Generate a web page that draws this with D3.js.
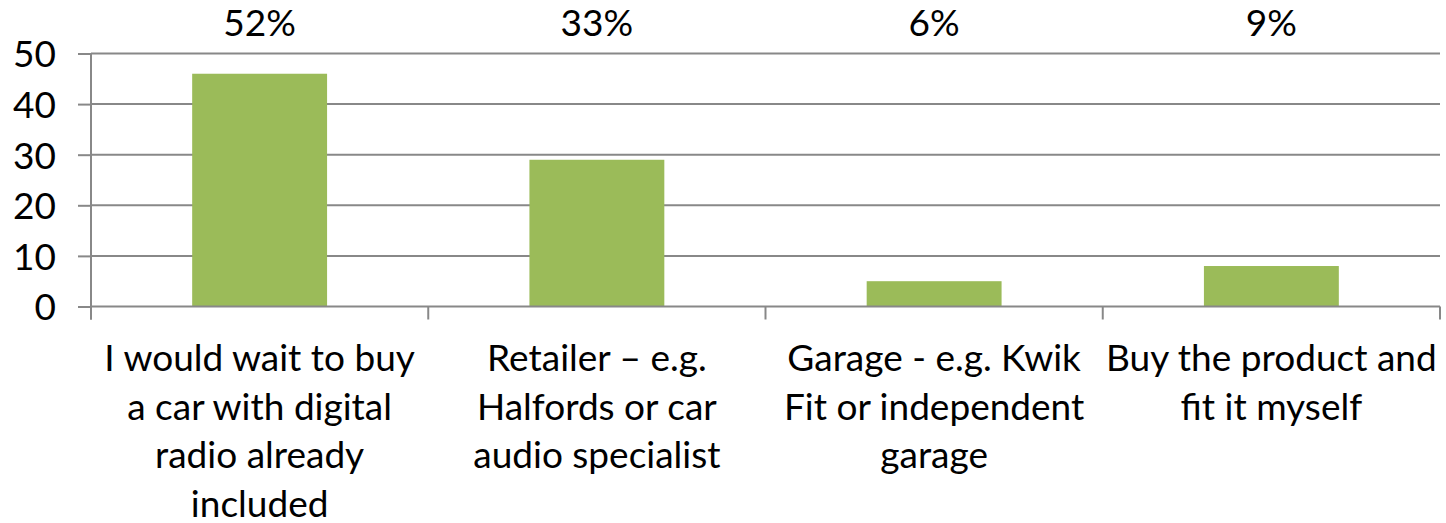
<!DOCTYPE html>
<html>
<head>
<meta charset="utf-8">
<script src="https://cdn.jsdelivr.net/npm/d3@7"></script>
<style>
  html, body { margin: 0; padding: 0; background: #fff; }
  svg { display: block; }
  text { font-family: Lato, "Open Sans", sans-serif; fill: #000; }
</style>
</head>
<body>
<svg id="chart" width="1446" height="523"></svg>
<script>
const categories = [
  ["I would wait to buy", "a car with digital", "radio already", "included"],
  ["Retailer \u2013 e.g.", "Halfords or car", "audio specialist"],
  ["Garage - e.g. Kwik", "Fit or independent", "garage"],
  ["Buy the product and", "fit it myself"]
];
const values = [46, 29, 5, 8];
const percentLabels = ["52%", "33%", "6%", "9%"];
const yTicks = [0, 10, 20, 30, 40, 50];

(function () {
const svg = d3.select("#chart");
const pLeft = 91, pRight = 1440, pTop = 53.5, pBottom = 306.5;
const fontSize = 37;
const gridColor = "#888888";

const x = d3.scaleBand().domain(d3.range(categories.length))
  .range([pLeft, pRight]).paddingInner(0.6).paddingOuter(0.3);
const y = d3.scaleLinear().domain([0, 50]).range([pBottom, pTop]);

// gridlines
svg.append("g").selectAll("line").data(yTicks.filter(d => d > 0)).join("line")
  .attr("x1", pLeft).attr("x2", pRight)
  .attr("y1", d => y(d)).attr("y2", d => y(d))
  .attr("stroke", gridColor).attr("stroke-width", 2);

// y axis
const yAxis = d3.axisLeft(y).tickValues(yTicks).tickSize(13).tickPadding(22);
const gy = svg.append("g").attr("transform", `translate(${pLeft},0)`).call(yAxis);
gy.select(".domain").remove();
gy.selectAll(".tick line").attr("stroke", gridColor).attr("stroke-width", 2);
gy.selectAll(".tick text").attr("font-size", fontSize).attr("font-family", "Lato, sans-serif")
  .attr("fill", "#000").attr("dy", "0.36em");
svg.append("line").attr("x1", pLeft).attr("x2", pLeft).attr("y1", pTop).attr("y2", pBottom + 13)
  .attr("stroke", gridColor).attr("stroke-width", 2);

// bars
svg.append("g").selectAll("rect").data(values).join("rect")
  .attr("x", (d, i) => x(i)).attr("width", x.bandwidth())
  .attr("y", d => y(d)).attr("height", d => y(0) - y(d))
  .attr("fill", "#9BBB59");

// x axis baseline
svg.append("line").attr("x1", pLeft).attr("x2", pRight).attr("y1", pBottom).attr("y2", pBottom)
  .attr("stroke", gridColor).attr("stroke-width", 2);
// category tick marks (boundaries)
const step = x.step();
const bounds = d3.range(categories.length + 1).map(i => pLeft + i * step);
svg.append("g").selectAll("line").data(bounds).join("line")
  .attr("x1", d => d).attr("x2", d => d).attr("y1", pBottom).attr("y2", pBottom + 13)
  .attr("stroke", gridColor).attr("stroke-width", 2);

// category labels
const lineH = 48.5;
const cl = svg.append("g").selectAll("text").data(categories).join("text")
  .attr("text-anchor", "middle").attr("font-size", fontSize)
  .attr("x", (d, i) => x(i) + x.bandwidth() / 2).attr("y", 371);
cl.selectAll("tspan").data(d => d).join("tspan")
  .attr("x", function() { return this.parentNode.getAttribute("x"); })
  .attr("dy", (d, i) => i === 0 ? 0 : lineH)
  .text(d => d);

// percentage labels
svg.append("g").selectAll("text").data(percentLabels).join("text")
  .attr("text-anchor", "middle").attr("font-size", fontSize)
  .attr("x", (d, i) => x(i) + x.bandwidth() / 2).attr("y", 36)
  .text(d => d);
})();
</script>
</body>
</html>
